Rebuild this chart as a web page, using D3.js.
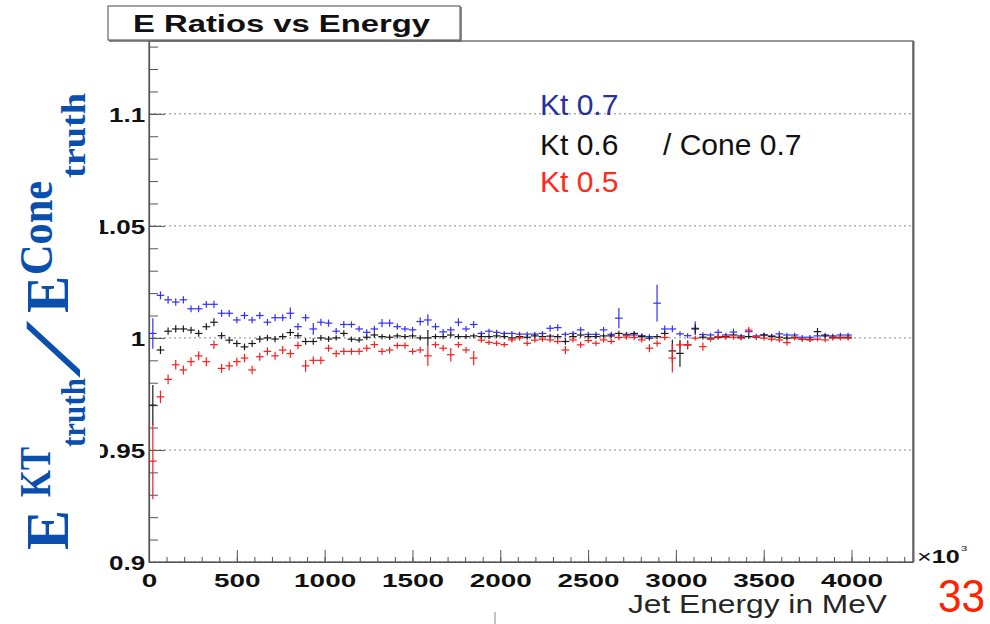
<!DOCTYPE html>
<html><head><meta charset="utf-8">
<script src="https://cdn.jsdelivr.net/npm/d3@7/dist/d3.min.js"></script>
<style>body{margin:0;background:#fff}svg{display:block}</style>
</head><body>
<svg id="chart" width="990" height="624"></svg>
<script>
// ---------------- data ----------------
const xTickValues = [0, 500, 1000, 1500, 2000, 2500, 3000, 3500, 4000];
const xTickLabels = ["0", "500", "1000", "1500", "2000", "2500", "3000", "3500", "4000"];
const yTickValues = [0.9, 0.95, 1, 1.05, 1.1];
const yTickLabels = ["0.9", "0.95", "1", "1.05", "1.1"];
const xDomain = [0, 4350];
const yDomain = [0.9, 1.1325];
const binWidth = 43.5;

const seriesNames = ["Kt 0.7", "Kt 0.6", "Kt 0.5"];

const kt07 = [1.002, 1.019, 1.017, 1.016, 1.017, 1.013, 1.013, 1.015, 1.015, 1.011,
 1.011, 1.008, 1.010, 1.008, 1.010, 1.007, 1.009, 1.009, 1.011, 1.005,
 1.009, 1.004, 1.007, 1.0066, 1.003, 1.006, 1.006, 1.004, 1.0025, 1.004,
 1.0066, 1.0066, 1.005, 1.004, 1.0036, 1.0073, 1.008, 1.005, 1.0027, 1.0036,
 1.007, 1.004, 1.006, 1.002, 1.003, 1.0025, 1.002, 1.002, 1.0017, 1.0017,
 1.0017, 1.002, 1.0043, 1.0046, 1.0016, 1.002, 1.0036, 1.0016, 1.0016, 1.0036,
 1.0016, 1.0088, 1.0016, 1.0013, 1.001, 1.0006, 1.0155, 1.004, 1.004, 1.0018,
 1.001, 1.0043, 1.0015, 1.0013, 1.0025, 1.0013, 1.0026, 1.0009, 1.0028, 1.0009,
 1.0013, 1.0009, 1.0018, 1.0013, 1.0013, 1.0003, 1.0003, 1.0009, 1.0013, 1.0009,
 1.0013, 1.0013];
const kt07Err = [0.0068, 0.0018, 0.0017, 0.0017, 0.0016, 0.0015, 0.0015, 0.0015, 0.0016, 0.0016,
 0.0015, 0.0015, 0.0016, 0.0015, 0.0016, 0.0015, 0.0016, 0.0016, 0.0026, 0.0016,
 0.0016, 0.0026, 0.0016, 0.0016, 0.0014, 0.0016, 0.0014, 0.0013, 0.0014, 0.0014,
 0.0018, 0.0016, 0.0014, 0.0013, 0.0013, 0.0018, 0.0026, 0.0016, 0.0013, 0.0014,
 0.0018, 0.0013, 0.0016, 0.0011, 0.0011, 0.0011, 0.0011, 0.0011, 0.0011, 0.0011,
 0.0011, 0.0011, 0.0015, 0.0015, 0.0011, 0.0011, 0.0013, 0.0011, 0.0011, 0.0013,
 0.0011, 0.0045, 0.0011, 0.0011, 0.0011, 0.0011, 0.0082, 0.0015, 0.0015, 0.0012,
 0.0011, 0.0030, 0.0010, 0.0010, 0.0014, 0.0010, 0.0016, 0.0010, 0.0014, 0.0010,
 0.0010, 0.0010, 0.0012, 0.0010, 0.0010, 0.0010, 0.0010, 0.0010, 0.0010, 0.0010,
 0.0010, 0.0010];

const kt06 = [0.970, 0.9946, 1.003, 1.004, 1.004, 1.0035, 1.002, 1.005, 1.007, 1.001,
 0.999, 0.9975, 0.996, 0.9975, 0.9995, 1.000, 0.9995, 1.0006, 1.0024, 1.001,
 0.9984, 0.9984, 1.000, 0.9995, 1.000, 1.002, 0.9994, 0.9991, 1.0003, 1.0013,
 1.0006, 1.0003, 1.0009, 1.0006, 1.0009, 1.000, 1.000, 1.0006, 1.0006, 1.0013,
 1.0006, 1.0006, 1.0009, 1.0006, 1.0006, 1.0009, 1.0006, 1.000, 1.0006, 1.0003,
 1.0009, 1.0006, 1.0008, 1.0006, 0.9984, 1.0006, 1.0013, 1.0006, 1.0006, 1.0009,
 1.0009, 1.002, 1.0013, 1.002, 1.0006, 0.9999, 1.0006, 1.002, 0.9942, 0.9931,
 0.9969, 1.004, 1.0003, 0.9999, 1.0003, 1.0006, 1.0013, 1.0003, 1.0006, 1.0003,
 1.0013, 1.0006, 1.0003, 0.9999, 1.0003, 0.9994, 0.9994, 1.0028, 1.0009, 1.0003,
 1.0003, 1.0003];
const kt06Err = [0.0090, 0.0018, 0.0016, 0.0016, 0.0015, 0.0015, 0.0015, 0.0015, 0.0018, 0.0015,
 0.0015, 0.0015, 0.0015, 0.0015, 0.0015, 0.0014, 0.0014, 0.0014, 0.0016, 0.0014,
 0.0014, 0.0014, 0.0013, 0.0013, 0.0012, 0.0014, 0.0012, 0.0012, 0.0012, 0.0012,
 0.0012, 0.0012, 0.0012, 0.0012, 0.0012, 0.0012, 0.0035, 0.0012, 0.0012, 0.0012,
 0.0012, 0.0011, 0.0011, 0.0011, 0.0011, 0.0011, 0.0011, 0.0011, 0.0011, 0.0011,
 0.0011, 0.0011, 0.0011, 0.0011, 0.0015, 0.0011, 0.0011, 0.0011, 0.0011, 0.0011,
 0.0011, 0.0012, 0.0011, 0.0011, 0.0011, 0.0011, 0.0012, 0.0012, 0.0050, 0.0060,
 0.0020, 0.0020, 0.0010, 0.0010, 0.0010, 0.0010, 0.0010, 0.0010, 0.0010, 0.0010,
 0.0010, 0.0010, 0.0010, 0.0010, 0.0010, 0.0010, 0.0010, 0.0016, 0.0010, 0.0010,
 0.0010, 0.0010];

const kt05 = [0.945, 0.9737, 0.9815, 0.988, 0.9857, 0.9894, 0.992, 0.9894, 0.997, 0.9864,
 0.9875, 0.9894, 0.991, 0.9857, 0.9916, 0.994, 0.992, 0.9946, 0.993, 0.9966,
 0.9875, 0.990, 0.990, 0.9954, 0.993, 0.994, 0.994, 0.994, 0.9954, 0.997,
 0.994, 0.9946, 0.9966, 0.9966, 0.994, 0.9946, 0.992, 0.997, 0.9954, 0.9925,
 0.997, 0.9946, 0.991, 0.999, 0.998, 0.9976, 0.997, 0.9991, 1.000, 0.9976,
 0.999, 0.9994, 0.9991, 0.9984, 0.9946, 0.9991, 0.9969, 0.9988, 0.9976, 0.9991,
 0.9984, 1.0002, 1.0004, 1.0002, 0.9991, 0.9954, 0.9976, 1.0002, 0.991, 0.9969,
 0.9969, 0.9999, 0.9961, 0.9994, 1.0006, 1.0003, 1.0003, 0.9999, 1.0035, 1.0003,
 0.9999, 0.9994, 0.9991, 0.9979, 0.9999, 0.9994, 0.9991, 0.9994, 0.9991, 0.9999,
 0.9999, 0.9999];
const kt05Err = [0.0170, 0.0028, 0.0022, 0.0021, 0.0020, 0.0020, 0.0020, 0.0020, 0.0019, 0.0020,
 0.0019, 0.0019, 0.0019, 0.0019, 0.0018, 0.0018, 0.0018, 0.0018, 0.0018, 0.0017,
 0.0026, 0.0017, 0.0017, 0.0016, 0.0016, 0.0016, 0.0015, 0.0015, 0.0015, 0.0015,
 0.0015, 0.0015, 0.0014, 0.0014, 0.0014, 0.0014, 0.0045, 0.0014, 0.0014, 0.0030,
 0.0014, 0.0014, 0.0032, 0.0012, 0.0012, 0.0012, 0.0012, 0.0012, 0.0012, 0.0012,
 0.0012, 0.0012, 0.0012, 0.0012, 0.0018, 0.0012, 0.0014, 0.0012, 0.0012, 0.0012,
 0.0012, 0.0012, 0.0012, 0.0012, 0.0012, 0.0018, 0.0014, 0.0012, 0.0064, 0.0015,
 0.0015, 0.0011, 0.0018, 0.0011, 0.0011, 0.0011, 0.0011, 0.0011, 0.0014, 0.0011,
 0.0011, 0.0011, 0.0011, 0.0013, 0.0010, 0.0010, 0.0010, 0.0010, 0.0010, 0.0010,
 0.0010, 0.0010];

// ---------------- drawing ----------------
const svg = d3.select("#chart");
const SANS = "'Liberation Sans', Arial, Helvetica, sans-serif";
const SERIF = "'Liberation Serif', 'Times New Roman', serif";

const x = d3.scaleLinear().domain(xDomain).range([149, 913]);
const y = d3.scaleLinear().domain(yDomain).range([562, 41]);

svg.append("rect").attr("width", 990).attr("height", 624).attr("fill", "#fff");

// grid (dotted horizontal lines at major y ticks)
svg.append("g").selectAll("line").data(yTickValues).join("line")
  .attr("x1", x(xDomain[0])).attr("x2", x(xDomain[1]))
  .attr("y1", d => y(d)).attr("y2", d => y(d))
  .attr("stroke", "#8a8a8a").attr("stroke-width", 1).attr("stroke-dasharray", "2,3");

// frame
svg.append("rect").attr("x", x(xDomain[0])).attr("y", y(yDomain[1]))
  .attr("width", x(xDomain[1]) - x(xDomain[0])).attr("height", y(yDomain[0]) - y(yDomain[1]))
  .attr("fill", "none").attr("stroke", "#555").attr("stroke-width", 1.2);
svg.append("line").attr("x1", x(xDomain[1]) + 0.5).attr("x2", x(xDomain[1]) + 0.5)
  .attr("y1", y(yDomain[1])).attr("y2", y(yDomain[0]))
  .attr("stroke", "#666").attr("stroke-width", 2);

// minor y ticks
const yMinor = d3.range(90, 114).map(v => v / 100);
svg.append("g").attr("transform", `translate(${x(0)},0)`)
  .call(d3.axisLeft(y).tickValues(yMinor).tickSize(-9).tickSizeOuter(0).tickFormat(""))
  .call(g => g.select(".domain").remove())
  .call(g => g.selectAll("line").attr("stroke", "#555"));
// major y ticks + labels
const yAxisG = svg.append("g").attr("transform", `translate(${x(0)},0)`)
  .call(d3.axisLeft(y).tickValues(yTickValues).tickSize(-16).tickSizeOuter(0).tickPadding(3)
    .tickFormat((d, i) => yTickLabels[i]));
yAxisG.select(".domain").attr("stroke", "#555").attr("stroke-width", 1.2);
yAxisG.selectAll("line").attr("stroke", "#555");
yAxisG.selectAll("text").attr("font-family", SANS).attr("font-weight", "bold")
  .attr("font-size", 20).attr("fill", "#111").attr("dy", "0.36em")
  .attr("transform", "scale(1.3,1)");

// minor x ticks
const xMinor = d3.range(0, 4400, 100);
svg.append("g").attr("transform", `translate(0,${y(yDomain[0])})`)
  .call(d3.axisBottom(x).tickValues(xMinor).tickSize(-5).tickSizeOuter(0).tickFormat(""))
  .call(g => g.select(".domain").remove())
  .call(g => g.selectAll("line").attr("stroke", "#555"));
// major x ticks + labels
const xAxisG = svg.append("g").attr("transform", `translate(0,${y(yDomain[0])})`)
  .call(d3.axisBottom(x).tickValues(xTickValues).tickSize(-12).tickSizeOuter(0).tickPadding(12)
    .tickFormat((d, i) => xTickLabels[i]));
xAxisG.select(".domain").attr("stroke", "#555").attr("stroke-width", 1.2);
xAxisG.selectAll("line").attr("stroke", "#555");
xAxisG.selectAll("text").attr("font-family", SANS).attr("font-weight", "bold")
  .attr("font-size", 18).attr("fill", "#111")
  .attr("transform", "scale(1.55,1)");

// exponent label
const expT = svg.append("text").attr("transform", "translate(917,563) scale(1.4,1)")
  .attr("font-family", SANS).attr("fill", "#111");
expT.append("tspan").attr("font-size", 18).text("×");
expT.append("tspan").attr("font-size", 18).attr("font-weight", "bold").text("10");
expT.append("tspan").attr("font-size", 8).attr("dy", -12).attr("dx", 1).text("3");

// series (histogram-style error crosses)
const energy = kt07.map((_, i) => (i + 0.5) * binWidth);
const series = [
  {name: seriesNames[0], vals: kt07, errs: kt07Err, color: "#2f2fff"},
  {name: seriesNames[1], vals: kt06, errs: kt06Err, color: "#1a1a1a"},
  {name: seriesNames[2], vals: kt05, errs: kt05Err, color: "#ff1a1a"}
];
series.forEach(s => {
  const g = svg.append("g").attr("stroke", s.color).attr("stroke-width", 1.2);
  const pts = s.vals.map((v, i) => ({e: energy[i], v, err: s.errs[i]}));
  g.selectAll("line.h").data(pts).join("line").attr("class", "h")
    .attr("x1", d => x(d.e - binWidth / 2)).attr("x2", d => x(d.e + binWidth / 2))
    .attr("y1", d => y(d.v)).attr("y2", d => y(d.v));
  g.selectAll("line.v").data(pts).join("line").attr("class", "v")
    .attr("x1", d => x(d.e)).attr("x2", d => x(d.e))
    .attr("y1", d => y(d.v - d.err)).attr("y2", d => y(d.v + d.err));
});

// legend texts
svg.append("text").attr("x", 540).attr("y", 115).attr("font-family", SANS).attr("font-size", 30)
  .attr("fill", "#27309b").text(seriesNames[0]);
svg.append("text").attr("x", 540).attr("y", 155).attr("font-family", SANS).attr("font-size", 30)
  .attr("fill", "#111").text(seriesNames[1]);
svg.append("text").attr("x", 663).attr("y", 155).attr("font-family", SANS).attr("font-size", 30)
  .attr("fill", "#111").text("/ Cone 0.7");
svg.append("text").attr("x", 540).attr("y", 192).attr("font-family", SANS).attr("font-size", 30)
  .attr("fill", "#ff2a1a").text(seriesNames[2]);

// title box
svg.append("rect").attr("x", 108).attr("y", 6).attr("width", 352).attr("height", 34)
  .attr("fill", "#fff").attr("stroke", "#666").attr("stroke-width", 1.2);
svg.append("path").attr("d", "M109,41 L461,41 L461,7").attr("fill", "none").attr("stroke", "#666").attr("stroke-width", 1.5);
svg.append("text").attr("x", 133).attr("y", 32).attr("font-family", SANS).attr("font-weight", "bold")
  .attr("font-size", 23).attr("fill", "#111")
  .attr("textLength", 297).attr("lengthAdjust", "spacingAndGlyphs").text("E Ratios vs Energy");

// x axis title
svg.append("text").attr("x", 628).attr("y", 613).attr("font-family", SANS).attr("font-size", 25)
  .attr("fill", "#262626").attr("textLength", 259).attr("lengthAdjust", "spacingAndGlyphs")
  .text("Jet Energy in MeV");

// slide number
svg.append("text").attr("x", 938).attr("y", 612).attr("font-family", SANS).attr("font-size", 47)
  .attr("fill", "#ff2200").attr("textLength", 47).attr("lengthAdjust", "spacingAndGlyphs").text("33");

// small stray tick at bottom
svg.append("line").attr("x1", 495).attr("x2", 495).attr("y1", 612).attr("y2", 624)
  .attr("stroke", "#888").attr("stroke-width", 1);

// y axis title (overlay with white backing)
svg.append("rect").attr("x", 0).attr("y", 60).attr("width", 100).attr("height", 485).attr("fill", "#fff");
const titleBlue = "#0b4fae";
const yt = svg.append("g").attr("transform", "translate(68,550) rotate(-90)")
  .attr("font-family", SERIF).attr("font-weight", "bold").attr("fill", titleBlue);
const ytText = yt.append("text");
const parts = [
  {t: "E", x: 0, y: 0, size: 62, len: 40},
  {t: "KT", x: 53, y: -18, size: 44, len: 50},
  {t: "truth", x: 103, y: 17, size: 34, len: 69},
  {t: "E", x: 237, y: 0, size: 62, len: 37},
  {t: "Cone", x: 275, y: -16, size: 46, len: 94},
  {t: "truth", x: 372, y: 17, size: 34, len: 85}
];
parts.forEach(p => {
  ytText.append("tspan").attr("x", p.x).attr("y", p.y).attr("font-size", p.size)
    .attr("textLength", p.len).attr("lengthAdjust", "spacingAndGlyphs").text(p.t);
});
// the fraction slash, slanted to match the original glyph
yt.append("text").attr("transform", "translate(176,10) skewX(-30)")
  .attr("font-size", 76).attr("stroke", titleBlue).attr("stroke-width", 2.5).text("/");
</script>
</body></html>
